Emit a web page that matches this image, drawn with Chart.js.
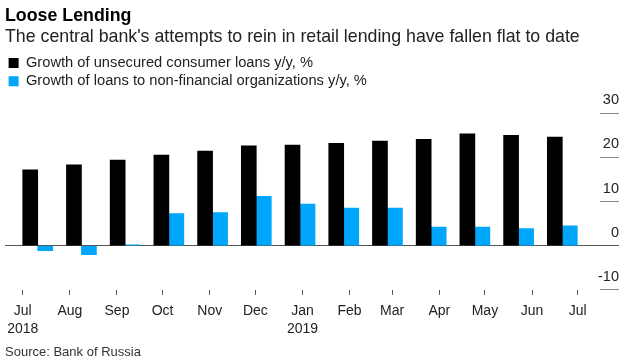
<!DOCTYPE html>
<html>
<head>
<meta charset="utf-8">
<script src="https://cdn.jsdelivr.net/npm/chart.js@4.4.1/dist/chart.umd.min.js"></script>
<style>
  html, body { margin: 0; padding: 0; background: #ffffff; }
  #wrap { width: 631px; height: 363px; }
</style>
</head>
<body>
<div id="wrap"><canvas id="c" width="631" height="363"></canvas></div>
<script>
// Months shown as bar pairs (Jul 2018 .. Jul 2019)
const categories = ['Jul 2018', 'Aug 2018', 'Sep 2018', 'Oct 2018', 'Nov 2018', 'Dec 2018',
                    'Jan 2019', 'Feb 2019', 'Mar 2019', 'Apr 2019', 'May 2019', 'Jun 2019', 'Jul 2019'];
// Growth of unsecured consumer loans y/y, %
const consumerLoans = [17.2, 18.3, 19.4, 20.5, 21.4, 22.6, 22.8, 23.2, 23.7, 24.1, 25.3, 25.0, 24.6];
// Growth of loans to non-financial organizations y/y, %
const corporateLoans = [-1.1, -2.0, 0.2, 7.3, 7.5, 11.2, 9.4, 8.5, 8.5, 4.2, 4.2, 3.9, 4.5];

// Date axis: days since 1 Jul 2018 for the first of each month
const tickDays = [0, 31, 62, 92, 123, 153, 184, 215, 243, 274, 304, 335, 365];
const tickLabels = [['Jul', '2018'], 'Aug', 'Sep', 'Oct', 'Nov', 'Dec', ['Jan', '2019'],
                    'Feb', 'Mar', 'Apr', 'May', 'Jun', 'Jul'];
const yTicks = [-10, 0, 10, 20, 30];

const seriesNames = ['Growth of unsecured consumer loans y/y, %',
                     'Growth of loans to non-financial organizations y/y, %'];

const FONT = "'Liberation Sans', Arial, Helvetica, sans-serif";

const toPoints = arr => arr.map((v, i) => ({ x: i, y: v }));

new Chart(document.getElementById('c'), {
  type: 'bar',
  data: {
    datasets: [
      {
        label: seriesNames[0],
        data: toPoints(consumerLoans),
        backgroundColor: '#000000',
        borderWidth: 0,
        xAxisID: 'xb',
        barThickness: 15
      },
      {
        label: seriesNames[1],
        data: toPoints(corporateLoans),
        backgroundColor: '#00a6fb',
        borderWidth: 0,
        xAxisID: 'xb',
        barThickness: 15
      }
    ]
  },
  options: {
    responsive: false,
    devicePixelRatio: 1,
    animation: false,
    layout: { padding: { left: 5, right: 12, top: 0, bottom: 0 } },
    plugins: {
      tooltip: { enabled: false },
      title: {
        display: true,
        text: 'Loose Lending',
        align: 'start',
        color: '#000000',
        font: { family: FONT, size: 17.8, weight: 'bold', lineHeight: 1.1 },
        padding: { top: 6.6, bottom: 0 }
      },
      subtitle: {
        display: true,
        text: "The central bank's attempts to rein in retail lending have fallen flat to date",
        align: 'start',
        color: '#222222',
        font: { family: FONT, size: 17.75, weight: 'normal', lineHeight: 1.1 },
        padding: { top: 0.7, bottom: 5.6 }
      },
      legend: {
        display: true,
        position: 'top',
        align: 'start',
        labels: {
          color: '#222222',
          font: { family: FONT, size: 14.7 },
          boxWidth: 10,
          boxHeight: 10,
          padding: 3.6
        }
      }
    },
    scales: {
      xb: {
        type: 'linear',
        display: false,
        offset: false,
        min: -0.748,
        max: 12.862,
        grid: { offset: false }
      },
      x: {
        type: 'linear',
        position: 'bottom',
        offset: false,
        min: -11.64,
        max: 379.7,
        afterBuildTicks: scale => { scale.ticks = tickDays.map(v => ({ value: v })); },
        border: { display: false },
        grid: {
          offset: false,
          drawOnChartArea: false,
          drawTicks: true,
          tickLength: 5,
          tickColor: '#555555',
          tickWidth: 1
        },
        ticks: {
          autoSkip: false,
          maxRotation: 0,
          minRotation: 0,
          padding: 7,
          color: '#222222',
          font: { family: FONT, size: 14, lineHeight: '18px' },
          callback: (value, index) => tickLabels[index]
        },
        title: {
          display: true,
          text: 'Source: Bank of Russia',
          align: 'start',
          color: '#333333',
          font: { family: FONT, size: 13, lineHeight: 1.2 },
          padding: { top: 0, bottom: 2.5 }
        }
      },
      y: {
        type: 'linear',
        position: 'right',
        min: -10,
        max: 33.3,
        afterBuildTicks: scale => { scale.ticks = yTicks.map(v => ({ value: v })); },
        afterFit: scale => { scale.width = 19; },
        border: { display: false },
        grid: {
          drawOnChartArea: true,
          drawTicks: true,
          tickLength: 19,
          color: ctx => (ctx.tick && ctx.tick.value === 0) ? '#555555' : 'rgba(0,0,0,0)',
          tickColor: ctx => (ctx.tick && ctx.tick.value === 0) ? '#555555' : '#888888',
          lineWidth: 1
        },
        ticks: {
          mirror: true,
          padding: 19,
          labelOffset: -13,
          color: '#222222',
          font: { family: FONT, size: 14.5 },
          callback: v => String(v)
        }
      }
    }
  }
});
</script>
</body>
</html>
